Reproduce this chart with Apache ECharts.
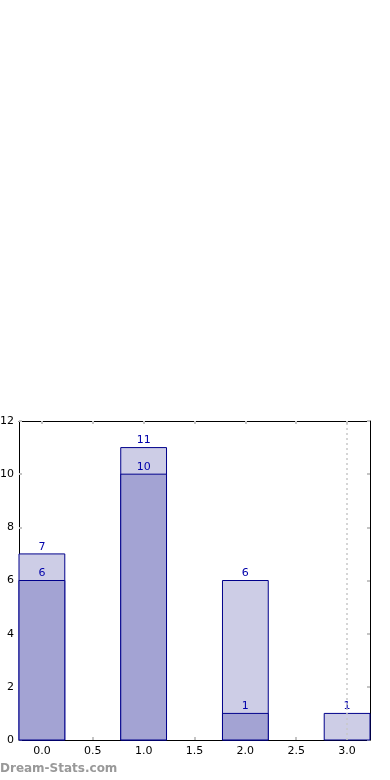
<!DOCTYPE html>
<html><head><meta charset="utf-8">
<script src="https://cdn.jsdelivr.net/npm/echarts@6/dist/echarts.min.js"></script>
<style>html,body{margin:0;padding:0;background:#fff}#c{width:390px;height:780px}</style>
</head><body><div id="c"></div>
<script>
const positions = [0, 1, 2, 3];
const totalValues = [7, 11, 6, 1];
const partValues = [6, 10, 1, 0];
const xTicks = [0, 0.5, 1, 1.5, 2, 2.5, 3];
const yTicks = [0, 2, 4, 6, 8, 10, 12];
const markerX = 3;
const halfWidth = 0.225;

const chart = echarts.init(document.getElementById('c'), null, {renderer: 'canvas'});
const font = 'DejaVu Sans';
function rectItem(fill) {
  return function (params, api) {
    const x = api.value(0), y = api.value(1);
    if (!y) return null;
    const p0 = api.coord([x - halfWidth, 0]);
    const p1 = api.coord([x + halfWidth, y]);
    return {
      type: 'rect',
      shape: {x: p0[0], y: p1[1], width: p1[0] - p0[0], height: p0[1] - p1[1]},
      style: {fill: fill, stroke: '#00008b', lineWidth: 1},
      textContent: {style: {text: String(y), fill: '#0000aa', font: '11px ' + font}},
      textConfig: {position: 'top', distance: 1}
    };
  };
}
const lineSt = {show: true, onZero: false, lineStyle: {color: '#000', width: 1}};
const tickSt = {color: '#c4c4c4', width: 2};
chart.setOption({
  animation: false,
  grid: {left: 19, right: 20, top: 421, bottom: 40, show: false, outerBoundsMode: 'none', containLabel: false},
  xAxis: [
    {type: 'value', position: 'bottom', min: -halfWidth, max: 3 + halfWidth,
      axisLine: lineSt, splitLine: {show: false},
      axisLabel: {show: true, customValues: xTicks, color: '#000', fontFamily: font, fontSize: 11, margin: 6,
        formatter: v => v.toFixed(1)},
      axisTick: {show: true, inside: true, length: 3, customValues: xTicks, lineStyle: tickSt}},
    {type: 'value', position: 'top', min: -halfWidth, max: 3 + halfWidth,
      axisLine: lineSt, splitLine: {show: false}, axisLabel: {show: false},
      axisTick: {show: true, inside: true, length: 3, customValues: xTicks, lineStyle: tickSt}}
  ],
  yAxis: [
    {type: 'value', position: 'left', min: 0, max: 12, interval: 2,
      axisLine: lineSt, splitLine: {show: false},
      axisTick: {show: true, inside: true, length: 3, lineStyle: tickSt},
      axisLabel: {color: '#000', fontFamily: font, fontSize: 11, margin: 5}},
    {type: 'value', position: 'right', min: 0, max: 12, interval: 2,
      axisLine: lineSt, splitLine: {show: false},
      axisTick: {show: true, inside: true, length: 3, lineStyle: tickSt},
      axisLabel: {show: false}}
  ],
  series: [
    {type: 'custom', renderItem: rectItem('#cdcde6'), data: positions.map((p, i) => [p, totalValues[i]]), z: 2,
      markLine: {silent: true, symbol: 'none', label: {show: false},
        lineStyle: {color: '#c8c8c8', type: [2, 3], width: 1.5},
        data: [{xAxis: markerX}]}},
    {type: 'custom', renderItem: rectItem('#a3a3d3'), data: positions.map((p, i) => [p, partValues[i]]), z: 3}
  ],
  graphic: [{type: 'text', left: 0, top: 763,
    style: {text: 'Dream-Stats.com', fill: '#999', font: 'bold 12px ' + font}}]
});
</script></body></html>
